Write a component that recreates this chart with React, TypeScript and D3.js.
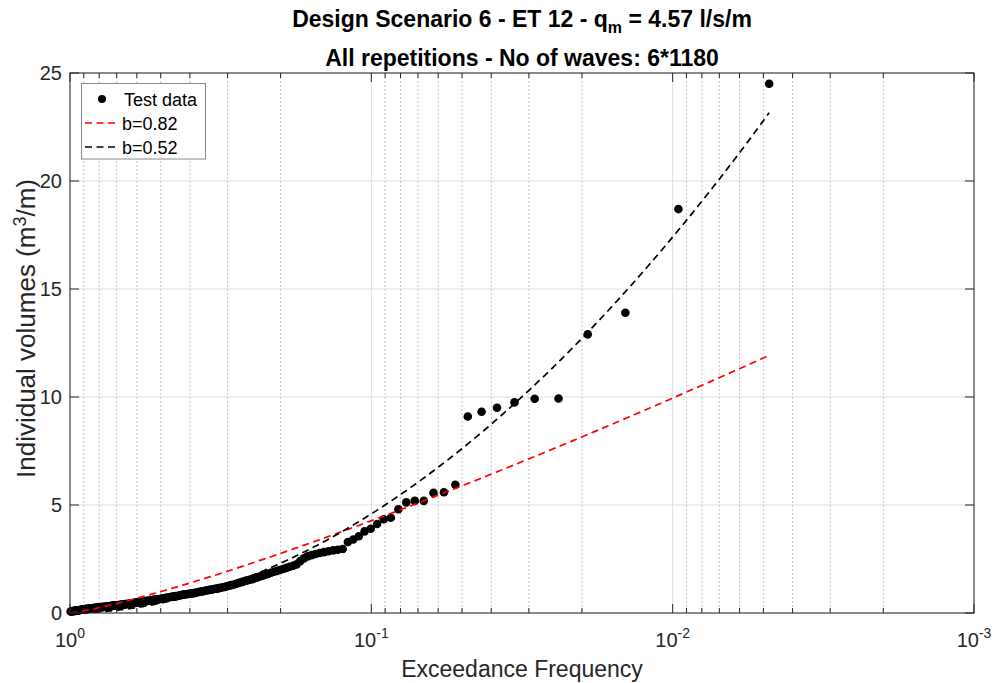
import React from 'react';
import * as d3 from 'd3';

// ---------- data ----------
const titleMain = 'Design Scenario 6 - ET 12 - q';
const titleSub = 'm';
const titleRest = ' = 4.57 l/s/m';
const titleLine2 = 'All repetitions - No of waves: 6*1180';
const xLabel = 'Exceedance Frequency';

// individual overtopping volumes (m3/m), sorted descending (rank 1 = largest)
const volumes = [
  24.5, 18.7, 13.9, 12.9, 9.93, 9.92, 9.75, 9.5, 9.32, 9.1,
  5.94, 5.59, 5.56, 5.19, 5.19, 5.12, 4.8, 4.41, 4.34, 4.12,
  3.9, 3.78, 3.55, 3.4, 3.29, 2.96, 2.93, 2.9, 2.86, 2.82,
  2.78, 2.73, 2.68, 2.62, 2.53, 2.4, 2.25, 2.19, 2.14, 2.09,
  2.04, 1.99, 1.95, 1.91, 1.86, 1.81, 1.77, 1.73, 1.69, 1.65,
  1.61, 1.57, 1.54, 1.51, 1.48, 1.44, 1.41, 1.38, 1.34, 1.31,
  1.29, 1.26, 1.24, 1.21, 1.19, 1.17, 1.15, 1.13, 1.12, 1.1,
  1.08, 1.07, 1.05, 1.04, 1.02, 1.0, 0.99, 0.97, 0.96, 0.94,
  0.92, 0.91, 0.9, 0.89, 0.88, 0.87, 0.86, 0.85, 0.83, 0.82,
  0.8, 0.79, 0.78, 0.77, 0.76, 0.75, 0.74, 0.73, 0.72, 0.7,
  0.69, 0.68, 0.67, 0.66, 0.65, 0.64, 0.63, 0.62, 0.62, 0.61,
  0.6, 0.59, 0.58, 0.57, 0.56, 0.56, 0.55, 0.54, 0.53, 0.52,
  0.52, 0.51, 0.5, 0.49, 0.49, 0.48, 0.47, 0.46, 0.46, 0.45,
  0.44, 0.44, 0.43, 0.42, 0.42, 0.41, 0.41, 0.4, 0.39, 0.39,
  0.38, 0.38, 0.37, 0.37, 0.36, 0.36, 0.35, 0.35, 0.34, 0.34,
  0.33, 0.33, 0.32, 0.32, 0.31, 0.31, 0.3, 0.3, 0.29, 0.29,
  0.29, 0.28, 0.28, 0.27, 0.27, 0.26, 0.26, 0.26, 0.25, 0.25,
  0.24, 0.24, 0.23, 0.23, 0.23, 0.22, 0.22, 0.21, 0.21, 0.2,
  0.2, 0.2, 0.19, 0.19, 0.18, 0.18, 0.17, 0.17, 0.16, 0.16,
  0.15, 0.15, 0.14, 0.14, 0.13, 0.13, 0.12, 0.12, 0.11, 0.11,
  0.1, 0.1, 0.09, 0.09, 0.08, 0.08, 0.07, 0.07,
];

// Weibull fits: V = a * (-ln P)^(1/b)
const fitLabels = ['b=0.82', 'b=0.52'];
const fitA = [1.545, 0.923];
const fitB = [0.82, 0.52];
const fitColors = ['#ff0000', '#000000'];

const xTickExps = [0, -1, -2, -3];
const yTicks = [0, 5, 10, 15, 20, 25];
const minorMultipliers = [2, 3, 4, 5, 6, 7, 8, 9];

const FONT = '"Liberation Sans", Arial, Helvetica, sans-serif';
const AX = '#262626';

export default function App() {
  const W = 995, H = 683;
  const L = 70, R = 974, T = 73, B = 613;
  const x = d3.scaleLog().domain([1, 1e-3]).range([L, R]);
  const y = d3.scaleLinear().domain([0, 25]).range([B, T]);

  const n = volumes.length;
  const points = volumes.map((v, i) => ({ p: (i + 1) / (n + 1), v }));

  const pMax = n / (n + 1), pMin = 1 / (n + 1);
  const lp = d3.scaleLinear().domain([0, 300]).range([Math.log10(pMax), Math.log10(pMin)]);
  const fitP = d3.range(0, 301).map((k) => Math.pow(10, lp(k)));

  const minorVals: number[] = [];
  for (let k = -3; k < 0; k++) for (const m of minorMultipliers) minorVals.push(m * Math.pow(10, k));
  const majorVals = xTickExps.map((e) => Math.pow(10, e));

  return (
    <svg width={W} height={H} style={{ position: 'absolute', left: 0, top: 0, background: '#fff' }} fontFamily={FONT}>
      <rect x={0} y={0} width={W} height={H} fill="#fff" />
      <rect x={L} y={T} width={R - L} height={B - T} fill="#fff" />
      {/* minor grid */}
      {minorVals.map((v, i) => (
        <line key={'mg' + i} x1={x(v)} x2={x(v)} y1={T} y2={B} stroke="#c4c4c4" strokeWidth={1} strokeDasharray="2 2" />
      ))}
      {/* major grid */}
      {majorVals.map((v, i) => (
        <line key={'Mg' + i} x1={x(v)} x2={x(v)} y1={T} y2={B} stroke="#dedede" strokeWidth={1} />
      ))}
      {yTicks.map((v, i) => (
        <line key={'yg' + i} x1={L} x2={R} y1={y(v)} y2={y(v)} stroke="#dedede" strokeWidth={1} />
      ))}

      {/* data */}
      {points.map((d, i) => (
        <circle key={'pt' + i} cx={x(d.p)} cy={y(d.v)} r={4.3} fill="#000" />
      ))}

      {/* fits */}
      {fitLabels.map((lab, j) => {
        const line = d3.line<number>()
          .x((p) => x(p))
          .y((p) => y(fitA[j] * Math.pow(-Math.log(p), 1 / fitB[j])));
        return (
          <path key={'fit' + j} d={line(fitP) || ''} fill="none" stroke={fitColors[j]} strokeWidth={1.7} strokeDasharray="7 4.5" />
        );
      })}

      {/* axes box */}
      <rect x={L} y={T} width={R - L} height={B - T} fill="none" stroke={AX} strokeWidth={1} />
      {majorVals.map((v, i) => (
        <g key={'xt' + i}>
          <line x1={x(v)} x2={x(v)} y1={B} y2={B - 9} stroke={AX} />
          <line x1={x(v)} x2={x(v)} y1={T} y2={T + 9} stroke={AX} />
        </g>
      ))}
      {minorVals.map((v, i) => (
        <g key={'xm' + i}>
          <line x1={x(v)} x2={x(v)} y1={B} y2={B - 5} stroke={AX} />
          <line x1={x(v)} x2={x(v)} y1={T} y2={T + 5} stroke={AX} />
        </g>
      ))}
      {yTicks.map((v, i) => (
        <g key={'yt' + i}>
          <line x1={L} x2={L + 9} y1={y(v)} y2={y(v)} stroke={AX} />
          <line x1={R} x2={R - 9} y1={y(v)} y2={y(v)} stroke={AX} />
          <text x={L - 8} y={y(v) + 7} textAnchor="end" fontSize={20} fill={AX}>{v}</text>
        </g>
      ))}
      {xTickExps.map((e, i) => (
        <text key={'xl' + i} x={x(Math.pow(10, e))} y={647} textAnchor="middle" fontSize={20} fill={AX}>
          <tspan>10</tspan>
          <tspan dy={-9} fontSize={14}>{String(e)}</tspan>
        </text>
      ))}

      {/* axis labels */}
      <text x={(L + R) / 2} y={677} textAnchor="middle" fontSize={23} fill={AX}>{xLabel}</text>
      <text transform="translate(35, 478) rotate(-90)" textAnchor="start" fontSize={26} fill={AX}>
        <tspan>Individual volumes (m</tspan>
        <tspan dy={-9} fontSize={18}>3</tspan>
        <tspan dy={9}>/m)</tspan>
      </text>

      {/* title */}
      <text x={(L + R) / 2} y={27} textAnchor="middle" fontSize={23} fontWeight="bold" fill="#000">
        <tspan>{titleMain}</tspan>
        <tspan dy={6} fontSize={16}>{titleSub}</tspan>
        <tspan dy={-6}>{titleRest}</tspan>
      </text>
      <text x={(L + R) / 2} y={66} textAnchor="middle" fontSize={23} fontWeight="bold" fill="#000">{titleLine2}</text>

      {/* legend */}
      <g>
        <rect x={81.5} y={83.5} width={124} height={75.5} fill="#fff" stroke="#8a8a8a" strokeWidth={1} />
        <circle cx={102} cy={99} r={4} fill="#000" />
        <text x={124} y={105.5} fontSize={18} fill="#000">Test data</text>
        {fitLabels.map((lab, j) => (
          <g key={'lg' + j}>
            <line x1={85} x2={119} y1={123 + 24 * j} y2={123 + 24 * j} stroke={fitColors[j]} strokeWidth={1.7} strokeDasharray="7 4.5" />
            <text x={122} y={129.5 + 24 * j} fontSize={18} fill="#000">{lab}</text>
          </g>
        ))}
      </g>
    </svg>
  );
}
